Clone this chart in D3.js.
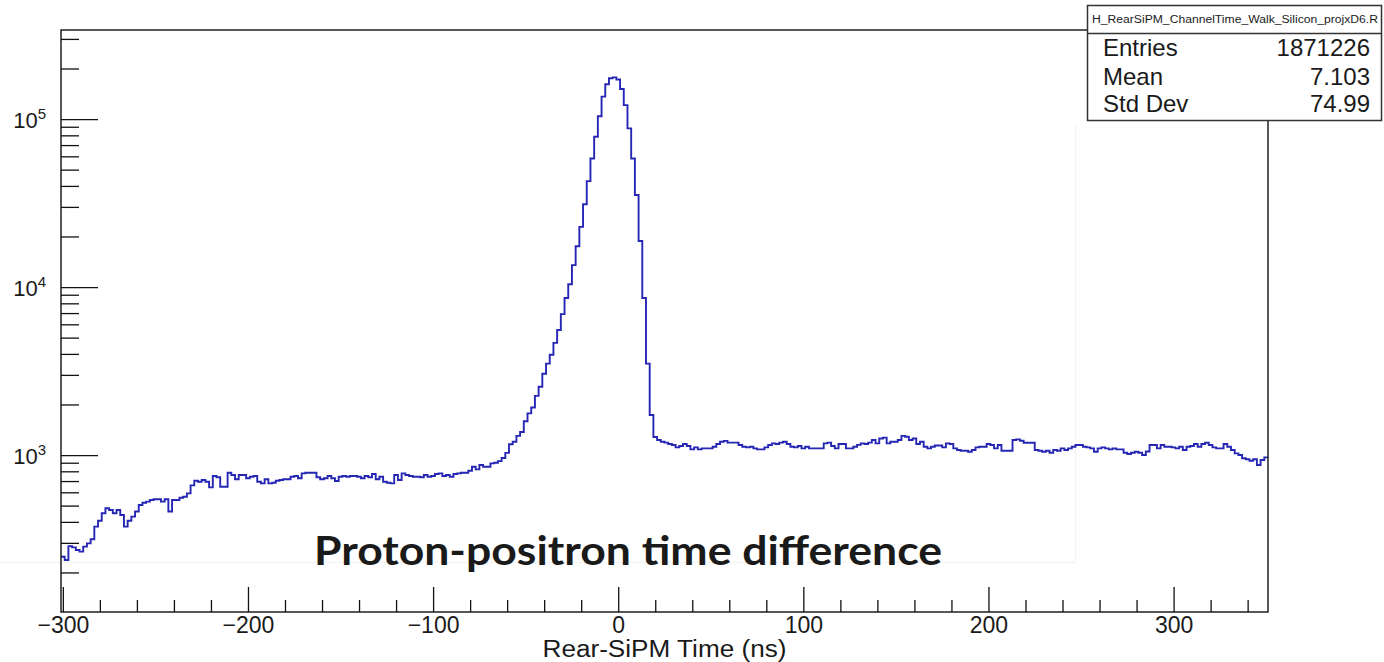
<!DOCTYPE html>
<html>
<head>
<meta charset="utf-8">
<script src="https://cdn.jsdelivr.net/npm/d3@7"></script>
<style>
  html, body { margin: 0; padding: 0; background: #fff; }
  svg { display: block; }
  text { font-family: "Liberation Sans", Arial, sans-serif; fill: #1a1a1a; }
</style>
</head>
<body>
<svg id="chart" width="1384" height="662"></svg>
<script>
// histogram binning (ns)
const xRange = [-301, 351];
const binWidth = 2;

// counts per 2 ns bin
const counts = [
  248, 237, 287, 282, 272, 266, 285, 298, 315, 375,
  406, 450, 482, 471, 450, 471, 440, 375, 406, 430,
  461, 504, 520, 528, 540, 545, 545, 528, 545, 461,
  540, 540, 557, 565, 591, 660, 703, 694, 710, 694,
  642, 750, 737, 647, 647, 785, 760, 717, 760, 760,
  727, 743, 750, 694, 678, 717, 678, 684, 703, 710,
  717, 717, 743, 750, 727, 778, 785, 785, 785, 737,
  717, 727, 750, 727, 700, 743, 750, 743, 750, 750,
  743, 727, 750, 737, 771, 717, 743, 694, 684, 678,
  760, 710, 778, 760, 750, 743, 743, 737, 760, 743,
  750, 771, 778, 750, 760, 743, 771, 778, 785, 785,
  807, 852, 822, 872, 852, 852, 892, 900, 920, 960,
  1030, 1160, 1200, 1300, 1370, 1590, 1770, 1920, 2250, 2550,
  3050, 3500, 3950, 4650, 5550, 6900, 8600, 10400, 13500, 17500,
  22800, 31100, 42700, 58300, 78500, 104000, 136000, 161000, 175000, 177000,
  172000, 151000, 121000, 88000, 58300, 35300, 18800, 8600, 3500, 1730,
  1280, 1228, 1200, 1185, 1163, 1147, 1110, 1131, 1163, 1131,
  1081, 1110, 1081, 1096, 1096, 1096, 1121, 1163, 1200, 1215,
  1185, 1185, 1185, 1147, 1121, 1110, 1121, 1096, 1081, 1081,
  1110, 1147, 1174, 1163, 1185, 1200, 1163, 1121, 1110, 1131,
  1096, 1121, 1096, 1096, 1096, 1096, 1174, 1185, 1131, 1096,
  1163, 1163, 1096, 1096, 1121, 1150, 1174, 1163, 1185, 1228,
  1174, 1255, 1270, 1174, 1200, 1200, 1228, 1300, 1285, 1228,
  1255, 1163, 1200, 1121, 1096, 1121, 1140, 1140, 1110, 1174,
  1163, 1096, 1071, 1061, 1061, 1046, 1071, 1110, 1121, 1121,
  1163, 1147, 1096, 1147, 1061, 1061, 1061, 1230, 1240, 1217,
  1184, 1184, 1184, 1071, 1061, 1046, 1061, 1032, 1071, 1061,
  1096, 1071, 1096, 1121, 1147, 1147, 1121, 1110, 1096, 1046,
  1096, 1110, 1096, 1081, 1096, 1081, 1081, 1032, 1014, 1032,
  1046, 1032, 1000, 1050, 1147, 1147, 1096, 1147, 1121, 1121,
  1110, 1096, 1121, 1071, 1121, 1131, 1163, 1121, 1163, 1184,
  1147, 1110, 1096, 1096, 1163, 1121, 1071, 1023, 1000, 956,
  943, 925, 943, 872, 934, 969
];

const yRange = [116.3, 339000];
const xMajorTicks = [-300, -200, -100, 0, 100, 200, 300];
const yMajorTicks = [1e3, 1e4, 1e5];
const yExponents = ["3", "4", "5"];

const histName = "H_RearSiPM_ChannelTime_Walk_Silicon_projxD6.R";
const statLabels = ["Entries", "Mean", "Std Dev"];
const statValues = ["1871226", "7.103", "74.99"];

const xTitle = "Rear-SiPM Time (ns)";
const overlayText = "Proton-positron time difference";

// frame in pixels
const frame = { left: 61, right: 1268, top: 30, bottom: 612 };

const svg = d3.select("#chart");

const x = d3.scaleLinear().domain(xRange).range([frame.left, frame.right]);
const y = d3.scaleLog().domain(yRange).range([frame.bottom, frame.top]);

// faint edges of the pasted text box
svg.append("path")
  .attr("d", "M0,562.5H1075.5V125")
  .attr("fill", "none")
  .attr("stroke", "#f3f3f3")
  .attr("stroke-width", 1);

// histogram as a step outline
const steps = counts.flatMap((c, i) => [
  [xRange[0] + i * binWidth, c],
  [xRange[0] + (i + 1) * binWidth, c],
]);
const line = d3.line().x((d) => x(d[0])).y((d) => y(d[1]));

svg.append("path")
  .datum(steps)
  .attr("d", line)
  .attr("fill", "none")
  .attr("stroke", "#2626b4")
  .attr("stroke-width", 1.9)
  .attr("stroke-linejoin", "miter");

// x axis: minor ticks every 20, major every 100, ticks point into the frame
const xMinor = d3.range(-300, 351, 20).filter((v) => v % 100 !== 0);
svg.append("g")
  .attr("transform", `translate(0,${frame.bottom})`)
  .call(d3.axisBottom(x).tickValues(xMinor).tickSizeInner(-12).tickSizeOuter(0).tickFormat(""))
  .call((g) => g.select(".domain").remove());

svg.append("g")
  .attr("transform", `translate(0,${frame.bottom})`)
  .call(
    d3.axisBottom(x)
      .tickValues(xMajorTicks)
      .tickSizeInner(-25)
      .tickSizeOuter(0)
      .tickFormat((d) => (d < 0 ? "\u2212" + Math.abs(d) : d))
  )
  .call((g) => g.select(".domain").remove())
  .call((g) =>
    g.selectAll(".tick text")
      .attr("dy", null)
      .attr("y", 21)
      .style("font-size", "23px")
      .style("font-family", '"Liberation Sans", Arial, sans-serif')
      .attr("fill", "#1a1a1a")
  );

// y axis (log): minor ticks 2..9 per decade
const yMinor = [];
[100, 1000, 10000, 100000].forEach((dec) => {
  d3.range(2, 10).forEach((m) => {
    const v = m * dec;
    if (v > yRange[0] && v < yRange[1]) yMinor.push(v);
  });
});

svg.append("g")
  .attr("transform", `translate(${frame.left},0)`)
  .call(d3.axisLeft(y).tickValues(yMinor).tickSizeInner(-18).tickSizeOuter(0).tickFormat(""))
  .call((g) => g.select(".domain").remove());

svg.append("g")
  .attr("transform", `translate(${frame.left},0)`)
  .call(d3.axisLeft(y).tickValues(yMajorTicks).tickSizeInner(-37).tickSizeOuter(0).tickFormat(""))
  .call((g) => g.select(".domain").remove());

svg.selectAll("g .tick line").attr("stroke", "#111").attr("stroke-width", 1.3);

// y labels as 10^n
const yLabels = svg.append("g")
  .selectAll("text")
  .data(yMajorTicks)
  .enter()
  .append("text")
  .attr("x", 46)
  .attr("y", (d) => y(d) + 9)
  .attr("text-anchor", "end")
  .style("font-size", "22px");
yLabels.append("tspan").text("10");
yLabels.append("tspan")
  .attr("dy", -9)
  .style("font-size", "15px")
  .text((d, i) => yExponents[i]);

// frame
svg.append("rect")
  .attr("x", frame.left)
  .attr("y", frame.top)
  .attr("width", frame.right - frame.left)
  .attr("height", frame.bottom - frame.top)
  .attr("fill", "none")
  .attr("stroke", "#111")
  .attr("stroke-width", 1.4);

// x axis title
svg.append("text")
  .attr("x", (frame.left + frame.right) / 2)
  .attr("y", 657)
  .attr("text-anchor", "middle")
  .attr("textLength", 244)
  .attr("lengthAdjust", "spacingAndGlyphs")
  .style("font-size", "23px")
  .text(xTitle);

// stats box
const stats = svg.append("g");
stats.append("rect")
  .attr("x", 1087.5)
  .attr("y", 5.5)
  .attr("width", 294)
  .attr("height", 115)
  .attr("fill", "#fff")
  .attr("stroke", "#333")
  .attr("stroke-width", 1.5);
stats.append("line")
  .attr("x1", 1087.5)
  .attr("x2", 1381.5)
  .attr("y1", 33.5)
  .attr("y2", 33.5)
  .attr("stroke", "#333")
  .attr("stroke-width", 1.3);
stats.append("text")
  .attr("x", 1235)
  .attr("y", 23)
  .attr("text-anchor", "middle")
  .attr("textLength", 286)
  .attr("lengthAdjust", "spacingAndGlyphs")
  .style("font-size", "10px")
  .text(histName);

const rowY = [56, 85, 112];
stats.selectAll(".stat-label")
  .data(statLabels)
  .enter()
  .append("text")
  .attr("class", "stat-label")
  .attr("x", 1103)
  .attr("y", (d, i) => rowY[i])
  .style("font-size", "24px")
  .text((d) => d);
stats.selectAll(".stat-value")
  .data(statValues)
  .enter()
  .append("text")
  .attr("class", "stat-value")
  .attr("x", 1370)
  .attr("y", (d, i) => rowY[i])
  .attr("text-anchor", "end")
  .style("font-size", "24px")
  .text((d) => d);

// annotation pasted over the plot
svg.append("text")
  .attr("x", 314)
  .attr("y", 565)
  .attr("textLength", 628)
  .attr("lengthAdjust", "spacingAndGlyphs")
  .style("font-family", "Lato, 'Open Sans', sans-serif")
  .style("font-weight", "bold")
  .style("font-size", "41px")
  .attr("fill", "#000")
  .text(overlayText);
</script>
</body>
</html>
